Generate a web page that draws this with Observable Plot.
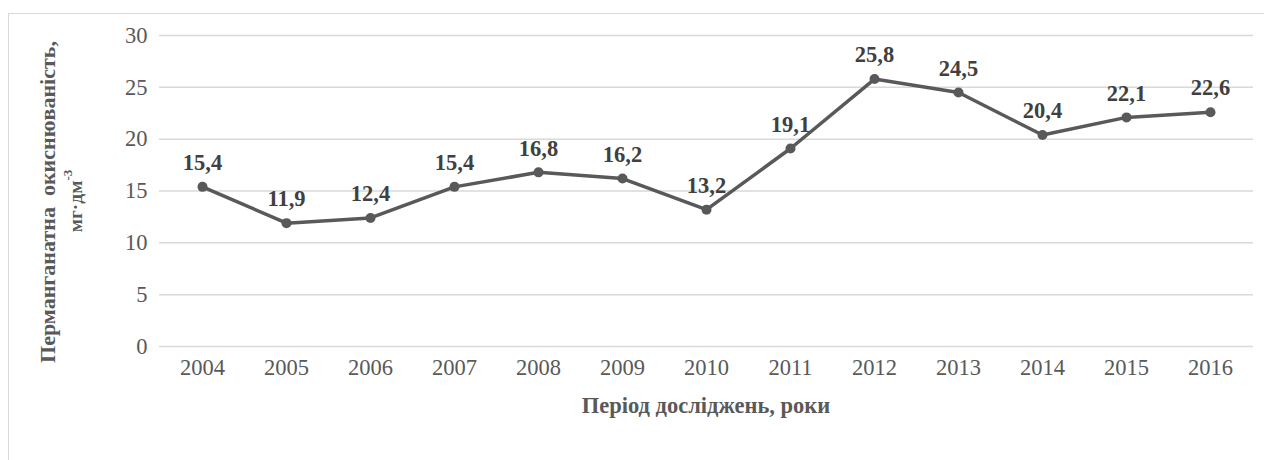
<!DOCTYPE html>
<html>
<head>
<meta charset="utf-8">
<script src="https://cdn.jsdelivr.net/npm/d3@7"></script>
<script src="https://cdn.jsdelivr.net/npm/@observablehq/plot@0.6"></script>
<style>
  html, body { margin: 0; padding: 0; background: #fff; }
  #wrap { position: relative; width: 1264px; height: 460px; overflow: hidden; }
  #border { position: absolute; left: 8px; top: 13px; width: 1270px; height: 470px;
            border: 1.5px solid #d9d9d9; box-sizing: border-box; pointer-events: none; }
  #chart { position: absolute; left: 0; top: 0; }
  #chart svg, #chart svg text { font-family: "Liberation Serif", "Times New Roman", serif !important; }
</style>
</head>
<body>
<div id="wrap"><div id="border"></div><div id="chart"></div></div>
<script>
// Permanganate oxidizability by year
const years = ["2004","2005","2006","2007","2008","2009","2010","2011","2012","2013","2014","2015","2016"];
const values = [15.4, 11.9, 12.4, 15.4, 16.8, 16.2, 13.2, 19.1, 25.8, 24.5, 20.4, 22.1, 22.6];
const yTicks = [0, 5, 10, 15, 20, 25, 30];

const xTitle = "Період досліджень, роки";
const yTitle = "Перманганатна  окиснюваність,";
const yUnit = "мг·дм";
const yUnitSup = "-3";

const data = years.map((year, i) => ({year, value: values[i]}));
const fmt = v => v.toFixed(1).replace(".", ",");

const W = 1264, H = 460;
const mL = 159, mR = 11, mT = 35, mB = 114;
const serif = "Liberation Serif";
const fs = 22.5;

const chart = Plot.plot({
  width: W,
  height: H,
  marginLeft: mL,
  marginRight: mR,
  marginTop: mT,
  marginBottom: mB,
  style: {fontFamily: serif, fontSize: fs + "px", color: "#595959", background: "transparent"},
  x: {type: "point", domain: years, padding: 0.5, label: null},
  y: {domain: [0, 30], label: null},
  marks: [
    Plot.gridY(yTicks, {stroke: "#d9d9d9", strokeOpacity: 1, strokeWidth: 1.5}),
    Plot.axisY({ticks: yTicks, tickSize: 0, tickPadding: 12, label: null, fill: "#595959", fontSize: fs}),
    Plot.axisX({tickSize: 0, tickPadding: 13, label: null, fill: "#595959", fontSize: fs}),
    Plot.line(data, {x: "year", y: "value", stroke: "#595959", strokeWidth: 3.5, strokeLinejoin: "round"}),
    Plot.dot(data, {x: "year", y: "value", r: 5, fill: "#595959", stroke: null}),
    Plot.text(data, {x: "year", y: "value", text: d => fmt(d.value), dy: -24, fontWeight: "bold", fill: "#404040", fontSize: fs})
  ]
});

document.getElementById("chart").appendChild(chart);

// Axis titles
const svg = d3.select(chart);
svg.append("text")
  .attr("x", (mL + W - mR) / 2)
  .attr("y", 405)
  .attr("text-anchor", "middle")
  .attr("dominant-baseline", "central")
  .attr("font-weight", "bold")
  .attr("font-size", fs)
  .attr("fill", "#595959")
  .text(xTitle);

svg.append("text")
  .attr("transform", "translate(47,202) rotate(-90)")
  .attr("text-anchor", "middle")
  .attr("dominant-baseline", "central")
  .attr("font-weight", "bold")
  .attr("font-size", 22)
  .attr("fill", "#595959")
  .style("white-space", "pre")
  .text(yTitle);

const unit = svg.append("text")
  .attr("transform", "translate(75,201) rotate(-90)")
  .attr("text-anchor", "middle")
  .attr("dominant-baseline", "central")
  .attr("font-weight", "bold")
  .attr("font-size", 19.5)
  .attr("fill", "#595959");
unit.append("tspan").text(yUnit);
unit.append("tspan").attr("font-size", 13).attr("dy", -8).text(yUnitSup);
</script>
</body>
</html>
